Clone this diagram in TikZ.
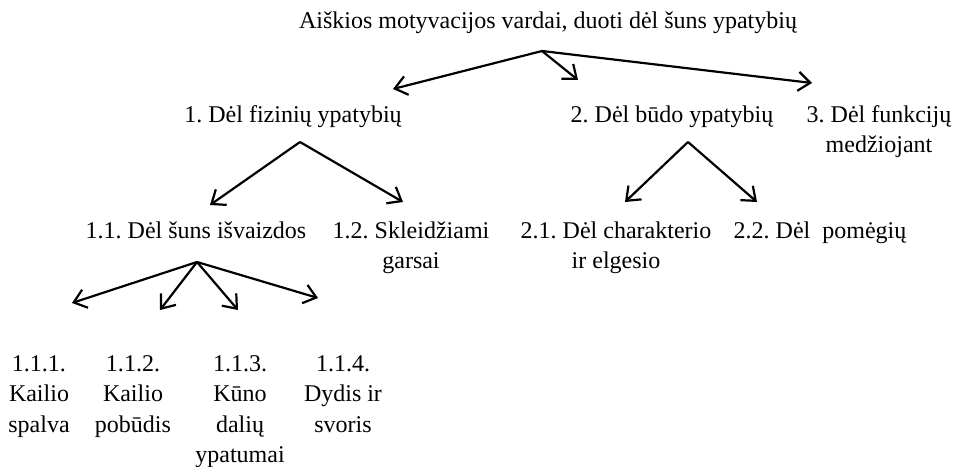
\documentclass[tikz,border=0pt]{standalone}
\usepackage{fontspec}
\setmainfont{Liberation Serif}
\usetikzlibrary{arrows.meta}
\frenchspacing

\begin{document}
\begin{tikzpicture}[x=0.5pt,y=-0.5pt,
  lbl/.style={anchor=north,inner sep=0pt,align=center,font=\fontsize{12}{15.25}\selectfont},
  arr/.style={-{Straight Barb[length=6pt,width=9.5pt]},line width=1.1pt}]
\useasboundingbox (0,0) rectangle (953,466);
% labels
\node[lbl] (root) at (548,11) {Aiškios motyvacijos vardai, duoti dėl šuns ypatybių};
\node[lbl] (fiz) at (293,105) {1. Dėl fizinių ypatybių};
\node[lbl] (bud) at (672,105) {2. Dėl būdo ypatybių};
\node[lbl] (funk) at (879,105) {3. Dėl funkcijų\\medžiojant};
\node[lbl] (isv) at (196,221) {1.1. Dėl šuns išvaizdos};
\node[lbl] (gars) at (411,221) {1.2. Skleidžiami\\garsai};
\node[lbl] (char) at (616,221) {2.1. Dėl charakterio\\ir elgesio};
\node[lbl] (pom) at (820,221) {2.2. Dėl~ pomėgių};
\node[lbl] (spal) at (39,355) {1.1.1.\\Kailio\\spalva};
\node[lbl] (pob) at (133,355) {1.1.2.\\Kailio\\pobūdis};
\node[lbl] (kun) at (240,355) {1.1.3.\\Kūno\\dalių\\ypatumai};
\node[lbl] (dyd) at (343,355) {1.1.4.\\Dydis ir\\svoris};
% arrow ends
\coordinate (root-a) at (542,51);
\coordinate (fiz-t) at (393,89);
\coordinate (bud-t) at (578,80);
\coordinate (funk-t) at (812,83);
\coordinate (fiz-a) at (300,142);
\coordinate (isv-t) at (210,205);
\coordinate (gars-t) at (403,202);
\coordinate (bud-a) at (688,142);
\coordinate (char-t) at (625,202);
\coordinate (pom-t) at (757,202);
\coordinate (isv-a) at (197,262);
\coordinate (spal-t) at (72,303);
\coordinate (pob-t) at (160,310);
\coordinate (kun-t) at (238,310);
\coordinate (dyd-t) at (318,298);
% arrows
\foreach \s/\t in {root-a/fiz-t,root-a/bud-t,root-a/funk-t,
                   fiz-a/isv-t,fiz-a/gars-t,bud-a/char-t,bud-a/pom-t,
                   isv-a/spal-t,isv-a/pob-t,isv-a/kun-t,isv-a/dyd-t}
  \draw[arr] (\s) -- (\t);
\end{tikzpicture}
\end{document}
